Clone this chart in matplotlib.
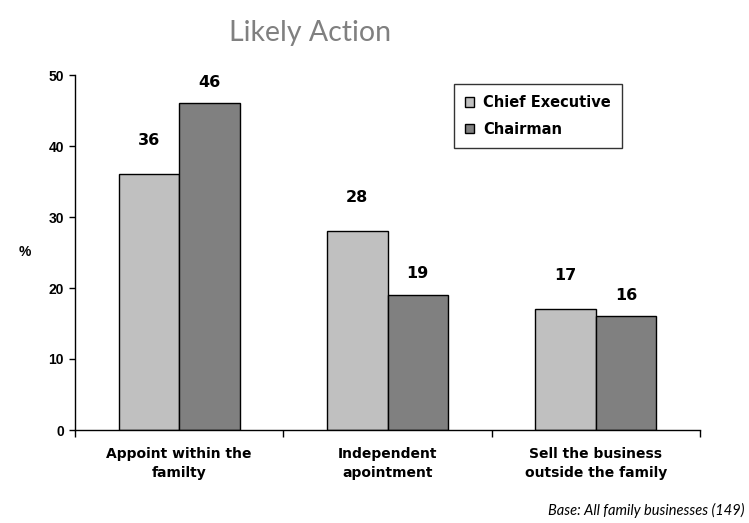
import numpy as np
import matplotlib
matplotlib.use("Agg")
import matplotlib.pyplot as plt
from matplotlib.patches import Patch

# data
categories = ["Appoint within the\nfamilty", "Independent\napointment", "Sell the business\noutside the family"]
series_names = ["Chief Executive", "Chairman"]
chief_exec = [36, 28, 17]
chairman = [46, 19, 16]
y_ticks = [0, 10, 20, 30, 40, 50]

light = "#C0C0C0"
dark = "#808080"
bold_font = "DejaVu Sans"

fig = plt.figure(figsize=(7.49, 5.23), dpi=100)
# axes: x 75..700 px, y 75..430 px
ax = fig.add_axes([75 / 749, 1 - 430 / 523, 625 / 749, 355 / 523])

x = np.arange(len(categories))
w = 0.29
b1 = ax.bar(x - w / 2, chief_exec, w, color=light, edgecolor="black", linewidth=1)
b2 = ax.bar(x + w / 2, chairman, w, color=dark, edgecolor="black", linewidth=1)

for bar, v in zip(b1, chief_exec):
    ax.text(bar.get_x() + bar.get_width() / 2, v + 4.8, str(v), ha="center", va="center",
            fontsize=11.5, fontweight="bold", family=bold_font)
for bar, v in zip(b2, chairman):
    ax.text(bar.get_x() + bar.get_width() / 2, v + 3.0, str(v), ha="center", va="center",
            fontsize=11.5, fontweight="bold", family=bold_font)

ax.set_xlim(-0.5, len(categories) - 0.5)
ax.set_ylim(0, 50)
ax.set_yticks(y_ticks)
ax.set_yticklabels([str(t) for t in y_ticks], fontsize=10, fontweight="bold", family="Liberation Sans")
ax.tick_params(axis="y", direction="out", length=4, width=1, pad=4)

# category boundary ticks, labels in the middle
ax.set_xticks(np.arange(len(categories) + 1) - 0.5)
ax.set_xticklabels([])
ax.set_xticks(x, minor=True)
ax.set_xticklabels(categories, minor=True, fontsize=10, fontweight="bold", family=bold_font,
                   linespacing=1.45)
ax.tick_params(axis="x", which="major", direction="out", length=5, width=1)
ax.tick_params(axis="x", which="minor", length=0, pad=12)

for s in ["top", "right"]:
    ax.spines[s].set_visible(False)
ax.spines["left"].set_linewidth(1)
ax.spines["bottom"].set_linewidth(1)

fig.text(25 / 749, 1 - 252 / 523, "%", fontsize=10, fontweight="bold", family="Liberation Sans",
         ha="center", va="center")

fig.text(310 / 749, 1 - 33 / 523, "Likely Action", fontsize=20.5, color="#808080",
         family="Lato", ha="center", va="center")

fig.text(745 / 749, 1 - 510 / 523, "Base: All family businesses (149)", fontsize=10.5,
         style="italic", family="Lato", ha="right", va="center")

handles = [Patch(facecolor=light, edgecolor="black", label=series_names[0]),
           Patch(facecolor=dark, edgecolor="black", label=series_names[1])]
leg = ax.legend(handles=handles, loc="upper left", bbox_to_anchor=(454 / 749, 1 - 84 / 523),
                bbox_transform=fig.transFigure, frameon=True, fancybox=False,
                prop={"family": bold_font, "weight": "bold", "size": 10.5},
                handlelength=0.65, handleheight=0.65, borderpad=0.75, labelspacing=0.8,
                handletextpad=0.6, borderaxespad=0)
leg.get_frame().set_edgecolor("black")
leg.get_frame().set_linewidth(1)

fig.savefig("out.png", dpi=100)
